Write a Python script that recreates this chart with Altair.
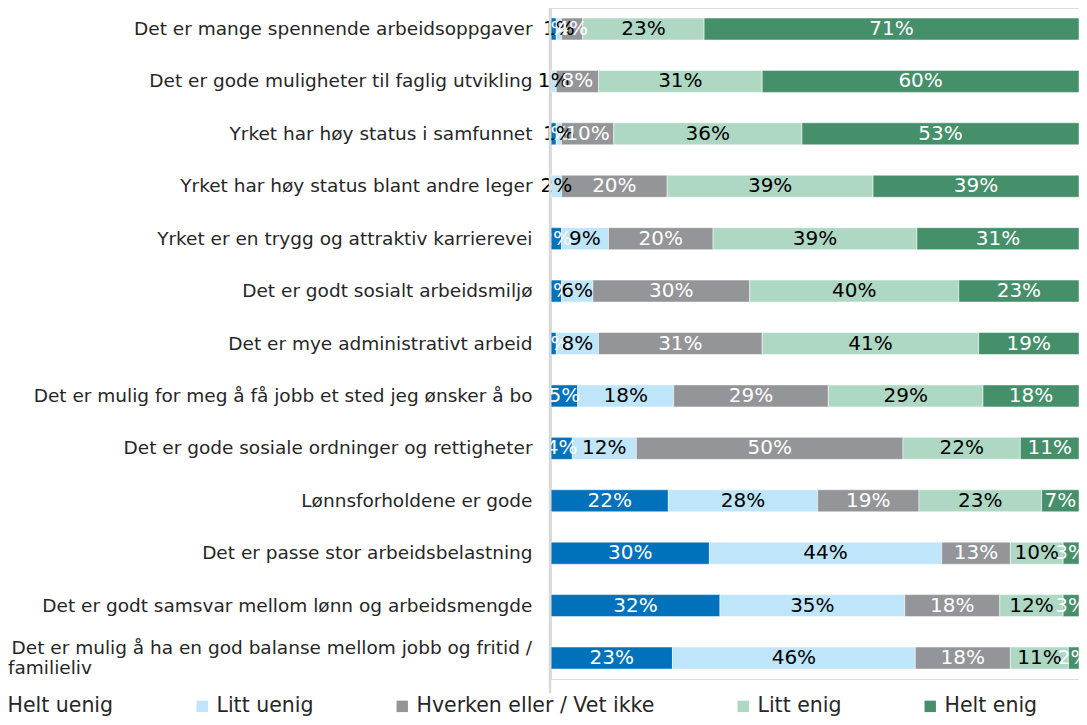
import altair as alt
import pandas as pd

categories = [
    "Det er mange spennende arbeidsoppgaver",
    "Det er gode muligheter til faglig utvikling",
    "Yrket har høy status i samfunnet",
    "Yrket har høy status blant andre leger",
    "Yrket er en trygg og attraktiv karrierevei",
    "Det er godt sosialt arbeidsmiljø",
    "Det er mye administrativt arbeid",
    "Det er mulig for meg å få jobb et sted jeg ønsker å bo",
    "Det er gode sosiale ordninger og rettigheter",
    "Lønnsforholdene er gode",
    "Det er passe stor arbeidsbelastning",
    "Det er godt samsvar mellom lønn og arbeidsmengde",
    "Det er mulig å ha en god balanse mellom jobb og fritid / familieliv",
]
last_cat_lines = ["Det er mulig å ha en god balanse mellom jobb og fritid /", "familieliv"]
responses = ["Helt uenig", "Litt uenig", "Hverken eller / Vet ikke", "Litt enig", "Helt enig"]

helt_uenig = [1, 0, 1, 0, 2, 2, 1, 5, 4, 22, 30, 32, 23]
litt_uenig = [1, 1, 1, 2, 9, 6, 8, 18, 12, 28, 44, 35, 46]
hverken = [4, 8, 10, 20, 20, 30, 31, 29, 50, 19, 13, 18, 18]
litt_enig = [23, 31, 36, 39, 39, 40, 41, 29, 22, 23, 10, 12, 11]
helt_enig = [71, 60, 53, 39, 31, 23, 19, 18, 11, 7, 3, 3, 2]

colors = ["#0072BC", "#BEE5FA", "#939598", "#AED8C4", "#458F6A"]

series = [helt_uenig, litt_uenig, hverken, litt_enig, helt_enig]
rows = []
for ci, cat in enumerate(categories):
    for ri, resp in enumerate(responses):
        rows.append({"cat": cat, "resp": resp, "order": ri, "value": series[ri][ci]})
df = pd.DataFrame(rows)

last_cat = categories[-1]
line1 = pd.DataFrame({"cat": [last_cat], "txt": [last_cat_lines[0]]})
line2 = pd.DataFrame({"cat": [last_cat], "txt": [last_cat_lines[1]]})

FONT = "DejaVu Sans"
LBL_SIZE = 18.5
TXT = "#262626"

yenc = alt.Y(
    "cat:N",
    sort=categories,
    scale=alt.Scale(paddingInner=0.58, paddingOuter=0.19),
    axis=alt.Axis(
        title=None,
        ticks=False,
        domain=False,
        labelFont=FONT,
        labelFontSize=LBL_SIZE,
        labelColor=TXT,
        labelPadding=19,
        labelLimit=600,
        labelExpr="datum.label == '" + last_cat + "' ? '' : datum.label",
    ),
)

base = alt.Chart(df).transform_stack(
    stack="value",
    groupby=["cat"],
    as_=["x0", "x1"],
    sort=[alt.SortField("order", order="ascending")],
    offset="normalize",
)

bars = base.mark_bar(stroke="white", strokeWidth=0.5).encode(
    y=yenc,
    x=alt.X("x0:Q", scale=alt.Scale(domain=[0, 1], nice=False, zero=False), axis=None),
    x2="x1:Q",
    color=alt.Color(
        "resp:N",
        scale=alt.Scale(domain=responses, range=colors),
        sort=responses,
        legend=alt.Legend(
            title=None,
            orient="none",
            direction="horizontal",
            legendX=-568,
            legendY=688,
            symbolType="square",
            symbolSize=130,
            symbolStrokeWidth=0,
            labelFont=FONT,
            labelFontSize=20.5,
            labelColor=TXT,
            labelOffset=4,
            columnPadding=78,
            padding=0,
            labelLimit=400,
        ),
    ),
)

labels = base.transform_filter("datum.value > 0").transform_calculate(
    mid="(datum.x0 + datum.x1) / 2",
    lbl="datum.value + '%'",
    tc="(datum.resp == 'Litt uenig' || datum.resp == 'Litt enig') ? 'black' : 'white'",
).mark_text(font=FONT, fontSize=20, baseline="middle", align="center").encode(
    y=alt.Y("cat:N", sort=categories),
    x=alt.X("mid:Q"),
    text="lbl:N",
    color=alt.Color("tc:N", scale=None),
)

axis_line = alt.Chart(pd.DataFrame({"a": [0]})).mark_rule(color="#D9D9D9", strokeWidth=2.5).encode(
    x=alt.value(-1), y=alt.value(-3), y2=alt.value(685)
)

first_line = alt.Chart(line1).mark_text(
    font=FONT, fontSize=LBL_SIZE, color=TXT, align="right", baseline="middle", dy=-10
).encode(
    y=alt.Y("cat:N", sort=categories),
    x=alt.value(-19),
    text="txt:N",
)

second_line = alt.Chart(line2).mark_text(
    font=FONT, fontSize=LBL_SIZE, color=TXT, align="left", baseline="middle", dy=10
).encode(
    y=alt.Y("cat:N", sort=categories),
    x=alt.value(-543),
    text="txt:N",
)

chart = alt.layer(bars, labels, first_line, second_line, axis_line).properties(
    width=528,
    height=671,
    autosize=alt.AutoSizeParams(type="none"),
    padding={"left": 543, "top": 0, "right": 0, "bottom": 38},
).configure_view(stroke=None).configure(font=FONT)

chart.save("out.html", embed_options={"renderer": "svg", "actions": False})
